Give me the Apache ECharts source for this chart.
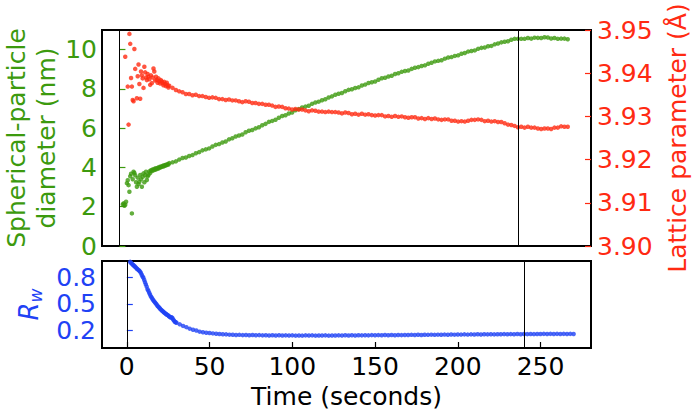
<!DOCTYPE html>
<html><head><meta charset="utf-8">
<script src="https://cdn.jsdelivr.net/npm/echarts@6/dist/echarts.min.js"></script>
<style>html,body{margin:0;padding:0;background:#fff}#c{width:692px;height:411px}</style>
</head><body><div id="c"></div>
<script>
const FONT = 'DejaVu Sans';
const GREEN = '#3c9a0e', RED = '#ff2a12', BLUE = '#1f42f5';

// time (seconds)
const times = [
  2,2.5,3,3.5,4,4.5,5,5.5,6,6.5,7,7.5,8,8.5,9,9.5,10,10.5,11,11.5,
  12,12.5,13,13.5,14,14.5,15,15.5,16,16.5,17,17.5,18,18.5,19,19.5,20,20.5,21,21.5,
  22,22.5,23,23.5,24,24.5,25,25.5,26,26.5,27,27.5,28,28.5,29,29.5,
  30,32,34,36,38,40,42,44,46,48,
  50,52,54,56,58,60,62,64,66,68,
  70,72,74,76,78,80,82,84,86,88,
  90,92,94,96,98,100,102,104,106,108,
  110,112,114,116,118,120,122,124,126,128,
  130,132,134,136,138,140,142,144,146,148,
  150,152,154,156,158,160,162,164,166,168,
  170,172,174,176,178,180,182,184,186,188,
  190,192,194,196,198,200,202,204,206,208,
  210,212,214,216,218,220,222,224,226,228,
  230,232,234,236,238,240,242,244,246,248,
  250,252,254,256,258,260,262,264,266,268,
  270
];

// spherical-particle diameter (nm)
const diameter = [
  2.12,2.17,2.05,2.10,2.25,3.20,3.35,3.10,2.76,3.55,3.68,1.66,3.40,3.78,3.72,3.60,3.25,3.02,3.48,3.15,
  3.27,3.62,3.40,3.02,3.52,3.70,3.25,3.60,3.78,3.36,3.55,3.62,3.80,3.72,3.86,3.82,3.90,3.85,3.93,3.88,
  3.96,3.92,3.98,3.95,4.02,3.99,4.05,4.03,4.08,4.05,4.11,4.09,4.14,4.12,4.17,4.15,
  4.22,4.26,4.31,4.40,4.48,4.51,4.58,4.63,4.72,4.78,
  4.87,4.92,4.97,5.07,5.15,5.19,5.27,5.32,5.43,5.49,
  5.58,5.63,5.68,5.79,5.87,5.91,5.99,6.05,6.15,6.22,
  6.32,6.37,6.43,6.53,6.62,6.66,6.75,6.80,6.91,6.97,
  7.05,7.10,7.14,7.24,7.31,7.35,7.42,7.47,7.56,7.62,
  7.70,7.75,7.79,7.88,7.95,7.98,8.05,8.08,8.17,8.22,
  8.30,8.34,8.38,8.47,8.54,8.57,8.63,8.67,8.76,8.80,
  8.87,8.91,8.94,9.02,9.08,9.11,9.17,9.20,9.28,9.33,
  9.40,9.43,9.46,9.54,9.60,9.62,9.68,9.71,9.79,9.83,
  9.90,9.93,9.96,10.04,10.09,10.11,10.17,10.19,10.27,10.31,
  10.37,10.40,10.43,10.50,10.55,10.55,10.55,10.55,10.59,10.56,
  10.61,10.60,10.59,10.63,10.62,10.57,10.59,10.55,10.56,10.56,
  10.53
];

// lattice parameter (Å)
const lattice = [
  3.9580,3.9545,3.9530,3.9438,3.9515,3.9520,3.9369,3.9281,3.9491,3.9468,3.9389,3.9369,3.9338,3.9335,3.9456,3.9410,3.9505,3.9342,3.9393,3.9420,
  3.9375,3.9341,3.9404,3.9395,3.9388,3.9366,3.9415,3.9402,3.9390,3.9384,3.9398,3.9392,3.9386,3.9373,3.9395,3.9377,3.9390,3.9411,3.9404,3.9383,
  3.9392,3.9385,3.9378,3.9388,3.9381,3.9376,3.9384,3.9381,3.9377,3.9372,3.9380,3.9375,3.9370,3.9378,3.9372,3.9367,
  3.9371,3.9366,3.9361,3.9358,3.9356,3.9352,3.9352,3.9349,3.9350,3.9347,
  3.9347,3.9345,3.9343,3.9344,3.9343,3.9340,3.9340,3.9338,3.9339,3.9337,
  3.9337,3.9335,3.9333,3.9335,3.9334,3.9331,3.9331,3.9329,3.9329,3.9327,
  3.9327,3.9325,3.9322,3.9323,3.9322,3.9319,3.9318,3.9316,3.9317,3.9316,
  3.9316,3.9314,3.9312,3.9314,3.9313,3.9311,3.9311,3.9310,3.9311,3.9310,
  3.9310,3.9309,3.9307,3.9309,3.9308,3.9305,3.9306,3.9304,3.9306,3.9304,
  3.9305,3.9303,3.9302,3.9303,3.9303,3.9300,3.9301,3.9299,3.9301,3.9299,
  3.9300,3.9298,3.9297,3.9298,3.9298,3.9295,3.9296,3.9294,3.9296,3.9294,
  3.9295,3.9293,3.9292,3.9293,3.9293,3.9290,3.9290,3.9288,3.9289,3.9288,
  3.9290,3.9292,3.9292,3.9293,3.9292,3.9289,3.9290,3.9288,3.9289,3.9287,
  3.9287,3.9284,3.9281,3.9280,3.9278,3.9275,3.9276,3.9274,3.9276,3.9274,
  3.9274,3.9272,3.9271,3.9272,3.9272,3.9271,3.9274,3.9274,3.9277,3.9276,
  3.9276
];

// Rw
const rw = [
  0.975,0.965,0.955,0.945,0.937,0.928,0.920,0.910,0.900,0.890,0.885,0.875,0.865,0.850,0.830,0.810,0.795,0.770,0.745,0.720,
  0.695,0.665,0.648,0.625,0.605,0.585,0.572,0.555,0.540,0.528,0.517,0.505,0.493,0.478,0.468,0.458,0.447,0.437,0.428,0.420,
  0.410,0.402,0.395,0.387,0.380,0.375,0.368,0.360,0.352,0.345,0.348,0.340,0.322,0.310,0.298,0.292,
  0.286,0.268,0.250,0.236,0.219,0.207,0.198,0.185,0.179,0.173,
  0.169,0.165,0.161,0.158,0.156,0.154,0.151,0.150,0.148,0.149,
  0.146,0.148,0.145,0.147,0.144,0.146,0.143,0.145,0.142,0.144,
  0.142,0.144,0.141,0.143,0.141,0.143,0.140,0.142,0.140,0.143,
  0.141,0.143,0.140,0.142,0.141,0.143,0.140,0.142,0.141,0.143,
  0.141,0.144,0.142,0.144,0.142,0.145,0.143,0.145,0.143,0.146,
  0.144,0.146,0.144,0.147,0.145,0.147,0.145,0.148,0.146,0.148,
  0.147,0.149,0.147,0.150,0.148,0.150,0.149,0.151,0.149,0.151,
  0.150,0.152,0.150,0.153,0.151,0.153,0.152,0.154,0.152,0.154,
  0.153,0.155,0.153,0.155,0.154,0.156,0.154,0.156,0.155,0.157,
  0.155,0.157,0.156,0.158,0.156,0.158,0.157,0.159,0.157,0.159,
  0.158,0.160,0.158,0.160,0.158,0.160,0.159,0.160,0.158,0.160,
  0.159
];

const xTicks = [0, 50, 100, 150, 200, 250];
const dTicks = [0, 2, 4, 6, 8, 10];
const aTicks = [3.90, 3.91, 3.92, 3.93, 3.94, 3.95];
const rTicks = [0.2, 0.5, 0.8];
const vLines = [0, 240];

const pairs = arr => times.map((t, i) => [t, arr[i]]);
const txt = (color, size) => ({ color, fontSize: size, fontFamily: FONT });
const vMark = {
  silent: true, animation: false, symbol: ['none', 'none'],
  label: { show: false },
  lineStyle: { color: '#000', width: 1, type: 'solid' },
  emphasis: { disabled: true },
  data: vLines.map(v => ({ xAxis: v }))
};
const gridBase = { show: true, borderColor: '#000', borderWidth: 2, backgroundColor: 'transparent',
  containLabel: false, outerBoundsMode: 'none' };

const chart = echarts.init(document.getElementById('c'), null, { renderer: 'svg' });
chart.setOption({
  animation: false,
  backgroundColor: '#fff',
  grid: [
    Object.assign({ left: 102, top: 30, width: 489, height: 216 }, gridBase),
    Object.assign({ left: 102, top: 261, width: 489, height: 87 }, gridBase)
  ],
  xAxis: [
    { gridIndex: 0, type: 'value', min: -10.5, max: 284,
      axisLine: { show: false }, axisTick: { show: false }, axisLabel: { show: false }, splitLine: { show: false } },
    { gridIndex: 1, type: 'value', min: -15, max: 280.5,
      axisLine: { show: false }, splitLine: { show: false },
      axisTick: { inside: true, length: 6, lineStyle: { color: '#000', width: 1.2 }, customValues: xTicks },
      axisLabel: Object.assign({ customValues: xTicks, margin: 6 }, txt('#000', 25)),
      name: 'Time (seconds)', nameLocation: 'middle', nameGap: 36,
      nameTextStyle: txt('#000', 25) }
  ],
  yAxis: [
    { gridIndex: 0, type: 'value', position: 'left', min: 0, max: 11,
      axisLine: { show: false }, splitLine: { show: false },
      axisTick: { inside: true, length: 6, lineStyle: { color: GREEN, width: 1.2 }, customValues: dTicks },
      axisLabel: Object.assign({ customValues: dTicks, margin: 5 }, txt(GREEN, 25)),
      name: 'Spherical-particle\ndiameter (nm)', nameLocation: 'middle', nameGap: 41, nameMoveOverlap: false,
      nameTextStyle: Object.assign({ lineHeight: 30 }, txt(GREEN, 25)) },
    { gridIndex: 0, type: 'value', position: 'right', min: 3.90, max: 3.95,
      axisLine: { show: false }, splitLine: { show: false },
      axisTick: { inside: true, length: 6, lineStyle: { color: RED, width: 1.2 }, customValues: aTicks },
      axisLabel: Object.assign({ customValues: aTicks, margin: 6, formatter: v => Number(v).toFixed(2) }, txt(RED, 25)),
      name: 'Lattice parameter (Å)', nameLocation: 'middle', nameGap: 73,
      nameTextStyle: Object.assign({ lineHeight: 26 }, txt(RED, 25)) },
    { gridIndex: 1, type: 'value', position: 'left', min: 0, max: 0.985,
      axisLine: { show: false }, splitLine: { show: false },
      axisTick: { inside: true, length: 6, lineStyle: { color: BLUE, width: 1.2 }, customValues: rTicks },
      axisLabel: Object.assign({ customValues: rTicks, margin: 6, formatter: v => Number(v).toFixed(1) }, txt(BLUE, 25)),
      name: '{r|R}{s|w}', nameLocation: 'middle', nameGap: 58,
      nameTextStyle: { rich: {
        r: { fontStyle: 'italic', fontSize: 26, color: BLUE, fontFamily: FONT, lineHeight: 30 },
        s: { fontStyle: 'italic', fontSize: 17, color: BLUE, fontFamily: FONT, verticalAlign: 'bottom', lineHeight: 18 }
      } } }
  ],
  series: [
    { name: 'diameter', type: 'scatter', xAxisIndex: 0, yAxisIndex: 0, data: pairs(diameter),
      symbolSize: 4.5, clip: true, itemStyle: { color: GREEN }, emphasis: { disabled: true }, markLine: vMark },
    { name: 'lattice', type: 'scatter', xAxisIndex: 0, yAxisIndex: 1, data: pairs(lattice),
      symbolSize: 4.5, clip: true, itemStyle: { color: RED }, emphasis: { disabled: true } },
    { name: 'rw', type: 'scatter', xAxisIndex: 1, yAxisIndex: 2, data: pairs(rw),
      symbolSize: 4.5, clip: true, itemStyle: { color: BLUE }, emphasis: { disabled: true }, markLine: vMark }
  ]
});
</script>
</body></html>
